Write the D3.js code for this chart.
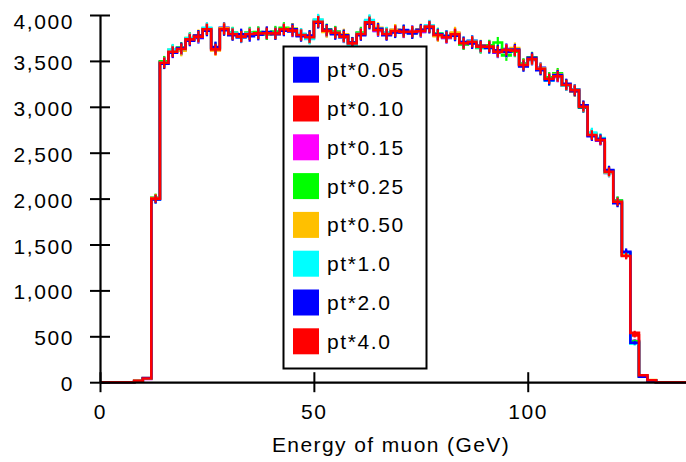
<!DOCTYPE html>
<html>
<head>
<meta charset="utf-8">
<script src="https://cdn.jsdelivr.net/npm/d3@7"></script>
<style>
  body { margin: 0; background: #fff; }
  svg { display: block; }
  text { font-family: "Liberation Sans", Arial, sans-serif; font-size: 21px; fill: #000; letter-spacing: 1.6px; }
</style>
</head>
<body>
<div id="chart"></div>
<script>
// bin lower edges in GeV, 2 GeV wide
var binStarts = d3.range(0, 138, 2);

var seriesNames = ["pt*0.05", "pt*0.10", "pt*0.15", "pt*0.25", "pt*0.50", "pt*1.0", "pt*2.0", "pt*4.0"];
var seriesColors = ["#0000ff", "#ff0000", "#ff00ff", "#00ff00", "#ffc000", "#00ffff", "#0000ff", "#ff0000"];

var pt005 = [0,0,0,0,12,38,1995,3490,3610,3620,3745,3750,3850,3640,3860,3800,3755,3800,3810,3790,
  3810,3835,3820,3790,3750,3935,3820,3815,3755,3680,3800,3930,3825,3800,3835,3810,3825,3815,3880,3775,
  3750,3800,3685,3720,3645,3665,3590,3630,3605,3465,3510,3425,3315,3325,3230,3190,2990,2705,2630,2280,
  1975,1405,440,65,18,0,0,0,0];
var pt010 = [0,0,0,0,14,42,2005,3485,3605,3625,3730,3770,3840,3630,3850,3790,3770,3790,3795,3805,
  3795,3840,3835,3785,3760,3920,3835,3800,3770,3695,3790,3915,3840,3790,3820,3822,3812,3830,3868,3786,
  3762,3785,3698,3705,3660,3650,3605,3615,3618,3460,3515,3418,3300,3338,3240,3185,3005,2690,2642,2298,
  1960,1390,510,70,20,0,0,0,0];
var pt015 = [0,0,0,0,16,36,1998,3475,3595,3635,3740,3760,3848,3620,3842,3798,3768,3785,3805,3798,
  3805,3850,3828,3778,3762,3932,3825,3812,3760,3688,3797,3925,3832,3798,3830,3815,3820,3822,3876,3778,
  3755,3795,3688,3712,3650,3660,3595,3622,3608,3450,3525,3410,3310,3328,3235,3178,3008,2688,2635,2300,
  1970,1380,450,68,20,0,0,0,0];
var pt025 = [0,0,0,0,12,40,2010,3495,3615,3645,3750,3770,3835,3635,3840,3810,3775,3810,3815,3790,
  3820,3860,3850,3775,3770,3920,3845,3820,3775,3700,3810,3930,3845,3805,3820,3830,3805,3835,3870,3800,
  3770,3780,3680,3700,3640,3670,3700,3560,3600,3470,3540,3405,3320,3365,3245,3170,2995,2700,2645,2305,
  1980,1395,445,62,16,0,0,0,0];
var pt050 = [0,0,0,0,14,44,2002,3470,3620,3610,3725,3780,3855,3615,3855,3785,3780,3795,3790,3810,
  3790,3838,3850,3790,3745,3945,3815,3800,3790,3685,3785,3915,3860,3790,3840,3820,3815,3845,3865,3770,
  3765,3810,3700,3695,3670,3645,3610,3590,3640,3455,3530,3420,3295,3350,3245,3165,3010,2710,2655,2285,
  1955,1385,425,72,24,0,0,0,0];
var pt100 = [0,0,0,0,13,41,1992,3480,3625,3630,3745,3765,3860,3645,3845,3805,3760,3800,3800,3800,
  3800,3845,3840,3795,3740,3950,3830,3805,3760,3675,3795,3945,3850,3810,3815,3825,3810,3830,3885,3795,
  3775,3780,3705,3715,3650,3640,3600,3595,3610,3445,3520,3415,3285,3340,3230,3185,3000,2720,2660,2290,
  1960,1410,420,66,18,0,0,0,0];
var pt200 = [0,0,0,0,10,45,1990,3470,3590,3640,3720,3775,3830,3650,3835,3780,3790,3770,3785,3815,
  3790,3830,3845,3770,3775,3915,3840,3790,3780,3700,3780,3905,3850,3780,3810,3835,3800,3840,3860,3790,
  3770,3775,3705,3690,3665,3640,3615,3600,3625,3440,3535,3400,3290,3345,3250,3170,3015,2680,2650,2310,
  1950,1420,430,60,15,0,0,0,0];
var pt400 = [0,0,0,0,15,40,2000,3480,3600,3630,3735,3764,3844,3626,3848,3793,3764,3793,3800,3800,
  3800,3844,3830,3782,3757,3927,3829,3807,3764,3691,3793,3920,3836,3793,3826,3818,3818,3826,3873,3782,
  3758,3790,3692,3709,3655,3655,3600,3619,3612,3455,3520,3414,3305,3332,3237,3180,3001,2693,2638,2293,
  1966,1375,537,75,22,0,0,0,0];

var seriesValues = [pt005, pt010, pt015, pt025, pt050, pt100, pt200, pt400];

var yTicks = [0, 500, 1000, 1500, 2000, 2500, 3000, 3500, 4000];
var xTicks = [0, 50, 100];
var binWidth = 2;

var width = 686, height = 462;

var svg = d3.select("#chart").append("svg")
    .attr("width", width)
    .attr("height", height);

var x = d3.scaleLinear().domain([0, 137]).range([100, 686]);
var y = d3.scaleLinear().domain([0, 4000]).range([382.2, 15]);

// histogram steps + error bars, in legend order so pt*4.0 ends on top
var line = d3.line()
    .x(function(d) { return x(d[0]); })
    .y(function(d) { return y(d[1]); })
    .curve(d3.curveStepAfter);

seriesValues.forEach(function(vals, i) {
  var pts = binStarts.map(function(b, k) { return [b, vals[k]]; });
  pts.push([binStarts[binStarts.length - 1] + binWidth, vals[vals.length - 1]]);

  var g = svg.append("g").attr("class", "series");

  g.selectAll("line.err")
    .data(binStarts.map(function(b, k) { return [b + binWidth / 2, vals[k]]; })
      .filter(function(d) { return d[1] > 0; }))
    .enter().append("line")
    .attr("class", "err")
    .attr("x1", function(d) { return x(d[0]); })
    .attr("x2", function(d) { return x(d[0]); })
    .attr("y1", function(d) { return y(d[1] - Math.sqrt(d[1])); })
    .attr("y2", function(d) { return y(d[1] + Math.sqrt(d[1])); })
    .attr("stroke", seriesColors[i])
    .attr("stroke-width", 2.2);

  g.append("path")
    .datum(pts)
    .attr("d", line)
    .attr("fill", "none")
    .attr("stroke", seriesColors[i])
    .attr("stroke-width", 2.6);
});

// axes
var yAxis = svg.append("g")
    .attr("transform", "translate(" + x(0) + ",0)")
    .call(d3.axisLeft(y).tickValues(yTicks).tickSizeOuter(0).tickSizeInner(10).tickFormat(d3.format(",")));

var xAxis = svg.append("g")
    .attr("transform", "translate(0," + y(0) + ")")
    .call(d3.axisBottom(x).tickValues(xTicks).tickSizeOuter(0).tickSizeInner(10));

[yAxis, xAxis].forEach(function(ax) {
  ax.select(".domain").attr("stroke", "#000").attr("stroke-width", 2.2);
  ax.selectAll(".tick line").attr("stroke", "#000").attr("stroke-width", 2);
  ax.selectAll(".tick text")
    .style("font-family", "'Liberation Sans', Arial, sans-serif")
    .style("font-size", "21px")
    .attr("fill", "#000");
});

yAxis.selectAll(".tick line").attr("x1", 10).attr("x2", -10);
yAxis.selectAll(".tick text")
    .attr("x", -26)
    .attr("dy", null)
    .attr("dominant-baseline", "central")
    .attr("y", function(d) { return y(d) < 20 ? 20.5 - y(d) : 1; });

xAxis.selectAll(".tick line").attr("y1", -10).attr("y2", 10);
xAxis.selectAll(".tick text")
    .attr("y", 29)
    .attr("dy", null)
    .attr("dominant-baseline", "central");

svg.append("text")
    .attr("x", 391)
    .attr("y", 452)
    .attr("text-anchor", "middle")
    .style("letter-spacing", "1.4px")
    .text("Energy of muon (GeV)");

// legend
var legend = svg.append("g").attr("class", "legend");

legend.append("rect")
    .attr("x", 283.5)
    .attr("y", 46.5)
    .attr("width", 143)
    .attr("height", 322)
    .attr("fill", "#fff")
    .attr("stroke", "#000")
    .attr("stroke-width", 2);

var items = legend.selectAll("g.item")
    .data(seriesNames)
    .enter().append("g")
    .attr("class", "item")
    .attr("transform", function(d, i) { return "translate(293," + (56.7 + i * 38.8) + ")"; });

items.append("rect")
    .attr("width", 26)
    .attr("height", 26)
    .attr("fill", function(d, i) { return seriesColors[i]; });

items.append("text")
    .attr("x", 34)
    .attr("y", 13)
    .attr("dominant-baseline", "central")
    .text(function(d) { return d; });
</script>
</body>
</html>
